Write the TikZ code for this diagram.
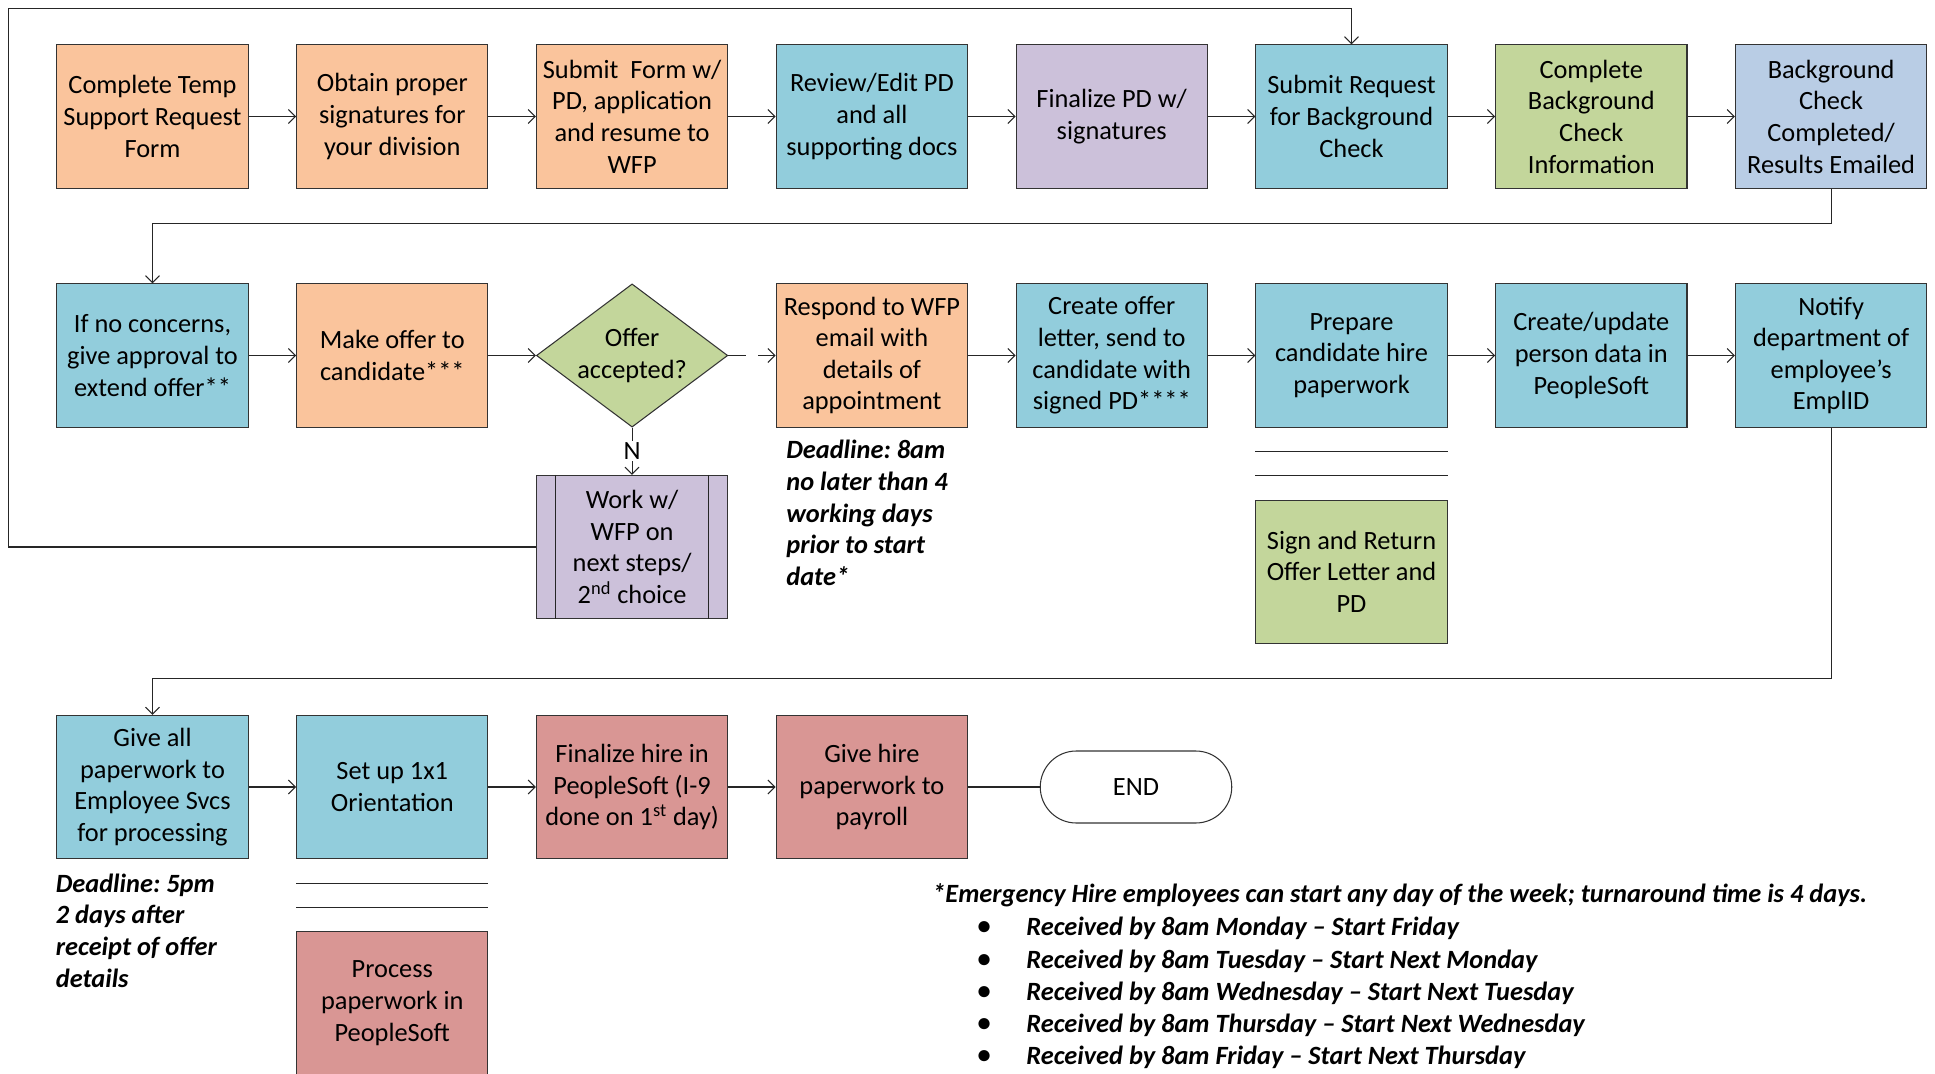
\documentclass[tikz,border=0pt]{standalone}
\usepackage{fontspec}
\setmainfont{Carlito}
\usepackage{tikz}
\usetikzlibrary{shapes.geometric, arrows.meta, positioning, calc}
\frenchspacing
\definecolor{hpOrange}{HTML}{FAC49C}
\definecolor{hpBlue}{HTML}{92CDDC}
\definecolor{hpPurple}{HTML}{CCC1DA}
\definecolor{hpGreen}{HTML}{C3D69B}
\definecolor{hpSteel}{HTML}{B9CDE5}
\definecolor{hpRed}{HTML}{D99694}
\tikzset{
  hp box/.style={
    rectangle, draw=black!80, line width=0.6pt,
    minimum width=38.26mm, minimum height=28.64mm,
    align=center, font=\fontsize{15}{18}\selectfont,
    inner sep=1pt
  },
  hp decision/.style={
    diamond, draw=black!80, line width=0.6pt, fill=hpGreen,
    minimum width=38.26mm, minimum height=28.64mm, aspect=1.336,
    align=center, font=\fontsize{15}{18}\selectfont,
    inner sep=0pt
  },
  hp end/.style={
    rectangle, rounded corners=7.2mm, draw=black!80, line width=0.6pt,
    fill=white, minimum width=38.3mm, minimum height=14.4mm,
    font=\fontsize{15}{18}\selectfont
  },
  hp arrow/.style={
    -{Straight Barb[length=1.4mm,width=2.8mm]}, line width=0.6pt, draw=black!85
  },
  hp line/.style={
    line width=0.6pt, draw=black!85
  },
  hp note/.style={
    font=\fontsize{15}{18}\selectfont\bfseries\itshape, align=left, inner sep=0pt
  },
  hp label/.style={
    font=\fontsize{15}{18}\selectfont, fill=white, inner sep=1pt
  }
}

\begin{document}
\begin{tikzpicture}[x=0.2mm, y=-0.2mm,
  gap/.style={fill=white, inner sep=0pt, minimum width=2.4mm, minimum height=1mm},
]
\useasboundingbox (0,0) rectangle (1935,1074);

% ====== ROW 1: request and background check ======
\node[hp box, fill=hpOrange] (tempreq) at (152.5,116.5) {Complete Temp\\Support Request\\Form};
\node[hp box, fill=hpOrange] (signs) at (392.3,116.5) {Obtain proper\\signatures for\\your division};
\node[hp box, fill=hpOrange] (submit) at (632.1,116.5) {Submit~ Form w/\\PD, application\\and resume to\\WFP};
\node[hp box, fill=hpBlue] (review) at (871.9,116.5) {Review/Edit PD\\and all\\supporting docs};
\node[hp box, fill=hpPurple] (finpd) at (1111.7,116.5) {Finalize PD w/\\signatures};
\node[hp box, fill=hpBlue] (bgreq) at (1351.5,116.5) {Submit Request\\for Background\\Check};
\node[hp box, fill=hpGreen] (bginfo) at (1591.3,116.5) {Complete\\Background\\Check\\Information};
\node[hp box, fill=hpSteel] (bgdone) at (1831.1,116.5) {Background\\Check\\Completed/\\Results Emailed};

\draw[hp arrow] (tempreq) -- (signs);
\draw[hp arrow] (signs) -- (submit);
\draw[hp arrow] (submit) -- (review);
\draw[hp arrow] (review) -- (finpd);
\draw[hp arrow] (finpd) -- (bgreq);
\draw[hp arrow] (bgreq) -- (bginfo);
\draw[hp arrow] (bginfo) -- (bgdone);

% ====== ROW 2: offer ======
\node[hp box, fill=hpBlue] (approve) at (152.5,355.5) {If no concerns,\\give approval to\\extend offer**};
\node[hp box, fill=hpOrange] (offer) at (392.3,355.5) {Make offer to\\candidate***};
\node[hp decision] (accept) at (632.1,355.5) {Offer\\accepted?};
\node[hp box, fill=hpOrange] (respond) at (871.9,355.5) {Respond to WFP\\email with\\details of\\appointment};
\node[hp box, fill=hpBlue] (letter) at (1111.7,355.5) {Create offer\\letter, send to\\candidate with\\signed PD****};
\node[hp box, fill=hpBlue] (prepare) at (1351.5,355.5) {Prepare\\candidate hire\\paperwork};
\node[hp box, fill=hpBlue] (psdata) at (1591.3,355.5) {Create/update\\person data in\\PeopleSoft};
\node[hp box, fill=hpBlue] (notify) at (1831.1,355.5) {Notify\\department of\\employee’s\\EmplID};

% not accepted
\node[hp box, fill=hpPurple] (nextsteps) at (632.1,547) {Work w/\\WFP on\\next steps/\\2\textsuperscript{nd} choice};
\draw[hp line] ([xshift=4mm]nextsteps.north west) -- ([xshift=4mm]nextsteps.south west);
\draw[hp line] ([xshift=-4mm]nextsteps.north east) -- ([xshift=-4mm]nextsteps.south east);

% candidate side
\draw[hp line] ([yshift=-4.8mm]prepare.south west) -- ([yshift=-4.8mm]prepare.south east);
\draw[hp line] ([yshift=-9.6mm]prepare.south west) -- ([yshift=-9.6mm]prepare.south east);
\node[hp box, fill=hpGreen, anchor=north] (signret) at ([yshift=-14.4mm]prepare.south) {Sign and Return\\Offer Letter and\\PD};

\node[hp note, anchor=north west] (deadline1) at (786,440) {Deadline: 8am\\no later than 4\\working days\\prior to start\\date*};

\draw[hp arrow] (approve) -- (offer);
\draw[hp arrow] (offer) -- (accept);
\draw[hp arrow] (accept) -- node[gap] {} (respond);
\draw[hp arrow] (accept) -- node[hp label] {N} (nextsteps);
\draw[hp arrow] (respond) -- (letter);
\draw[hp arrow] (letter) -- (prepare);
\draw[hp arrow] (prepare) -- (psdata);
\draw[hp arrow] (psdata) -- (notify);

% ====== ROW 3: processing ======
\node[hp box, fill=hpBlue] (empsvcs) at (152.5,787) {Give all\\paperwork to\\Employee Svcs\\for processing};
\node[hp box, fill=hpBlue] (orient) at (392.3,787) {Set up 1x1\\Orientation};
\node[hp box, fill=hpRed] (finhire) at (632.1,787) {Finalize hire in\\PeopleSoft (I-9\\done on 1\textsuperscript{st} day)};
\node[hp box, fill=hpRed] (payroll) at (871.9,787) {Give hire\\paperwork to\\payroll};
\node[hp end] (done) at (1136,787) {END};

\draw[hp line] ([yshift=-4.8mm]orient.south west) -- ([yshift=-4.8mm]orient.south east);
\draw[hp line] ([yshift=-9.6mm]orient.south west) -- ([yshift=-9.6mm]orient.south east);
\node[hp box, fill=hpRed, anchor=north] (psproc) at ([yshift=-14.4mm]orient.south) {Process\\paperwork in\\PeopleSoft};

\node[hp note, anchor=north west] (deadline2) at (55.5,873.5) {Deadline: 5pm\\2 days after\\receipt of offer\\details};

\draw[hp arrow] (empsvcs) -- (orient);
\draw[hp arrow] (orient) -- (finhire);
\draw[hp arrow] (finhire) -- (payroll);
\draw[hp line] (payroll) -- (done);

% ====== return lines ======
\coordinate (loopcorner) at (8.6,8.6);
\coordinate (ret1) at (152.5,223.4);
\coordinate (ret2) at (152.5,678.5);
\draw[hp arrow] (nextsteps.west) -| (loopcorner) -| (bgreq.north);
\draw[hp arrow] (bgdone.south) |- (ret1) -- (approve.north);
\draw[hp arrow] (notify.south) |- (ret2) -- (empsvcs.north);

% ====== emergency hire note ======
\node[hp note, anchor=west] (emerg) at (932,895.5) {*Emergency Hire employees can start any day of the week; turnaround time is 4 days.};
\node[hp note] (dot1) at (984,928.5) {•};
\node[hp note] (dot2) at (984,961) {•};
\node[hp note] (dot3) at (984,993) {•};
\node[hp note] (dot4) at (984,1025) {•};
\node[hp note] (dot5) at (984,1057.5) {•};
\node[hp note, anchor=west] (mon) at (1026,928.5) {Received by 8am Monday – Start Friday};
\node[hp note, anchor=west] (tue) at (1026,961) {Received by 8am Tuesday – Start Next Monday};
\node[hp note, anchor=west] (wed) at (1026,993) {Received by 8am Wednesday – Start Next Tuesday};
\node[hp note, anchor=west] (thu) at (1026,1025) {Received by 8am Thursday – Start Next Wednesday};
\node[hp note, anchor=west] (fri) at (1026,1057.5) {Received by 8am Friday – Start Next Thursday};

\end{tikzpicture}
\end{document}
